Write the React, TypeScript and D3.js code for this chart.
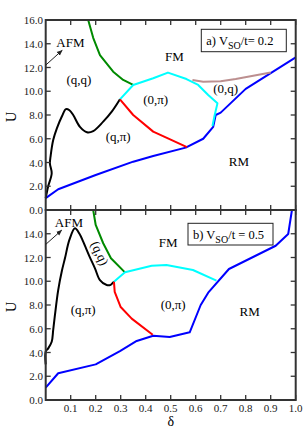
import * as d3 from "d3";
import * as React from "react";

// phase boundaries, panel a) Vso/t = 0.2
const deltaBlueA = [0, 0.05, 0.2, 0.35, 0.43, 0.56, 0.63, 0.67, 0.68, 0.7, 0.8, 1.0];
const uBlueA = [1.0, 1.75, 2.95, 4.07, 4.55, 5.25, 6.0, 7.0, 8.0, 8.2, 10.2, 12.85];
const deltaBlackA = [0, 0.01, 0.024, 0.017, 0.02, 0.03, 0.045, 0.065, 0.081, 0.095, 0.11, 0.137, 0.165, 0.19, 0.23, 0.265, 0.297];
const uBlackA = [1.0, 2.0, 3.1, 3.9, 4.6, 5.9, 6.9, 7.9, 8.5, 8.4, 8.0, 7.0, 6.55, 6.65, 7.44, 8.3, 9.32];
const deltaGreenA = [0.17, 0.19, 0.217, 0.245, 0.27, 0.31, 0.35];
const uGreenA = [16, 14.5, 13.05, 12.3, 11.65, 10.95, 10.53];
const deltaCyanA = [0.297, 0.35, 0.43, 0.489, 0.563, 0.61, 0.65, 0.687, 0.676, 0.667];
const uCyanA = [9.32, 10.53, 11.09, 11.57, 11.03, 10.53, 9.68, 8.98, 8.0, 7.07];
const deltaRedA = [0.297, 0.35, 0.43, 0.489, 0.565];
const uRedA = [9.32, 8.0, 6.6, 6.03, 5.3];
const deltaBrownA = [0.587, 0.63, 0.7, 0.76, 0.9];
const uBrownA = [10.95, 10.8, 10.85, 11.03, 11.57];

// panel b) Vso/t = 0.5
const deltaBlueB = [0, 0.05, 0.2, 0.297, 0.364, 0.43, 0.496, 0.576, 0.62, 0.65, 0.733, 0.92, 0.97, 0.985];
const uBlueB = [1.04, 2.25, 3.0, 4.12, 4.97, 5.41, 5.3, 5.7, 8.0, 9.04, 11.03, 12.99, 13.98, 16];
const deltaBlackB = [0, 0, 0.01, 0.024, 0.03, 0.037, 0.05, 0.065, 0.077, 0.095, 0.117, 0.135, 0.15, 0.175, 0.197, 0.217, 0.244, 0.26, 0.273];
const uBlackB = [3.0, 4.07, 4.35, 4.9, 5.9, 7.16, 9.26, 10.9, 11.93, 13.5, 14.46, 14.0, 13.33, 12.1, 11.09, 10.1, 9.68, 9.7, 9.96];
const deltaGreenB = [0.19, 0.2, 0.23, 0.261, 0.317];
const uGreenB = [16, 14.74, 13.2, 11.93, 10.75];
const deltaCyanB = [0.273, 0.317, 0.424, 0.483, 0.589, 0.683];
const uCyanB = [9.96, 10.75, 11.31, 11.37, 10.95, 10.05];
const deltaRedB = [0.273, 0.276, 0.3, 0.344, 0.428];
const uRedB = [9.96, 9.1, 7.83, 6.85, 5.5];

const xTicks = [0.1, 0.2, 0.3, 0.4, 0.5, 0.6, 0.7, 0.8, 0.9, 1.0];
const yTicks = [0, 2, 4, 6, 8, 10, 12, 14, 16];

const zip = (xs: number[], ys: number[]) => xs.map((x, i) => [x, ys[i]] as [number, number]);

const left = 45.7, right = 295.7;
const font = "'Liberation Serif', 'Times New Roman', serif";

function Panel({ top, curves, labels, legend, last }: any) {
  const x = d3.scaleLinear().domain([0, 1]).range([left, right]);
  const y = d3.scaleLinear().domain([0, 16]).range([top + 190, top]);
  const line = d3.line<[number, number]>().x(d => x(d[0])).y(d => y(d[1]));
  const smooth = d3.line<[number, number]>().x(d => x(d[0])).y(d => y(d[1])).curve(d3.curveCatmullRom);
  const shownY = last ? yTicks.slice(0, -1) : yTicks;
  return (
    <g>
      {curves.map((c: any, i: number) => (
        <path key={i} d={(c.smooth ? smooth(c.pts) : line(c.pts)) || ""} fill="none" stroke={c.color} strokeWidth={2} strokeLinejoin="round" />
      ))}
      {xTicks.map(t => (
        <g key={t}>
          <line x1={x(t)} x2={x(t)} y1={y(0)} y2={y(0) - 5} stroke="#333" strokeWidth={1.3} />
          <line x1={x(t)} x2={x(t)} y1={y(16)} y2={y(16) + 5} stroke="#333" strokeWidth={1.3} />
        </g>
      ))}
      {yTicks.map(t => (
        <g key={t}>
          <line x1={left} x2={left + 5} y1={y(t)} y2={y(t)} stroke="#333" strokeWidth={1.3} />
          <line x1={right} x2={right - 5} y1={y(t)} y2={y(t)} stroke="#333" strokeWidth={1.3} />
        </g>
      ))}
      {shownY.map(t => (
        <text key={t} x={43} y={y(t) + 4} textAnchor="end" fontSize={11} fill="#222">{t.toFixed(1)}</text>
      ))}
      {last && xTicks.map(t => (
        <text key={t} x={x(t)} y={top + 202} textAnchor="middle" fontSize={11} fill="#222">{t.toFixed(1)}</text>
      ))}
      <rect x={left} y={top} width={right - left} height={190} fill="none" stroke="#333" strokeWidth={2} />
      <text transform={`translate(16,${top + 97}) rotate(-90)`} textAnchor="middle" fontSize={14}>U</text>
      {labels.map((l: any, i: number) => (
        <text key={i} x={x(l.d)} y={y(l.u)} textAnchor="middle" fontSize={13}
          transform={l.rot ? `rotate(${l.rot},${x(l.d)},${y(l.u)})` : undefined}>{l.text}</text>
      ))}
      <line x1={x(legend.arrow[0])} y1={y(legend.arrow[1])} x2={x(legend.arrow[2])} y2={y(legend.arrow[3])}
        stroke="#222" strokeWidth={1} markerEnd="url(#arr)" />
      <rect x={legend.box[0]} y={top + legend.box[1]} width={legend.box[2]} height={legend.box[3]} fill="white" stroke="#222" strokeWidth={1} />
      <text x={legend.box[0] + 5} y={top + legend.box[1] + 16} fontSize={12.5}>
        {legend.pre} V<tspan dy={4} fontSize={10}>SO</tspan><tspan dy={-4}>{legend.post}</tspan>
      </text>
    </g>
  );
}

export default function App() {
  const panelA = [
    { pts: zip(deltaBlueA, uBlueA), color: "#0000ff" },
    { pts: zip(deltaBlackA, uBlackA), color: "#000000", smooth: true },
    { pts: zip(deltaGreenA, uGreenA), color: "#008a00" },
    { pts: zip(deltaCyanA, uCyanA), color: "#00ffff" },
    { pts: zip(deltaRedA, uRedA), color: "#ff0000" },
    { pts: zip(deltaBrownA, uBrownA), color: "#bc8f8f" },
  ];
  const panelB = [
    { pts: zip(deltaBlueB, uBlueB), color: "#0000ff" },
    { pts: zip(deltaBlackB, uBlackB), color: "#000000", smooth: true },
    { pts: zip(deltaGreenB, uGreenB), color: "#008a00" },
    { pts: zip(deltaCyanB, uCyanB), color: "#00ffff" },
    { pts: zip(deltaRedB, uRedB), color: "#ff0000" },
  ];
  const labelsA = [
    { text: "AFM", d: 0.099, u: 13.75 },
    { text: "(q,q)", d: 0.133, u: 10.6 },
    { text: "(q,\u03c0)", d: 0.29, u: 5.85 },
    { text: "(0,\u03c0)", d: 0.44, u: 8.9 },
    { text: "FM", d: 0.515, u: 12.55 },
    { text: "(0,q)", d: 0.72, u: 9.85 },
    { text: "RM", d: 0.773, u: 3.7 },
  ];
  const labelsB = [
    { text: "AFM", d: 0.093, u: 14.6 },
    { text: "(q,q)", d: 0.2, u: 12.2, rot: 65 },
    { text: "(q,\u03c0)", d: 0.15, u: 7.25 },
    { text: "FM", d: 0.49, u: 12.9 },
    { text: "(0,\u03c0)", d: 0.51, u: 7.65 },
    { text: "RM", d: 0.816, u: 7.07 },
  ];
  return (
    <svg width={306} height={429} style={{ position: "absolute", left: 0, top: 0, background: "white" }} fontFamily={font}>
      <defs>
        <marker id="arr" viewBox="0 0 10 10" refX={9} refY={5} markerWidth={6} markerHeight={6} orient="auto">
          <path d="M0,1 L10,5 L0,9 z" fill="#222" />
        </marker>
      </defs>
      <Panel top={20} curves={panelA} labels={labelsA}
        legend={{ arrow: [0, 12.2, 0.066, 13.45], box: [201.3, 9.3, 85, 22.4], pre: "a)", post: "/t= 0.2" }} />
      <Panel top={210} curves={panelB} labels={labelsB} last
        legend={{ arrow: [0, 13.1, 0.064, 14.3], box: [188, 13.3, 85, 21.7], pre: "b)", post: "/t = 0.5" }} />
      <text x={170.7} y={426} textAnchor="middle" fontSize={14}>δ</text>
    </svg>
  );
}
